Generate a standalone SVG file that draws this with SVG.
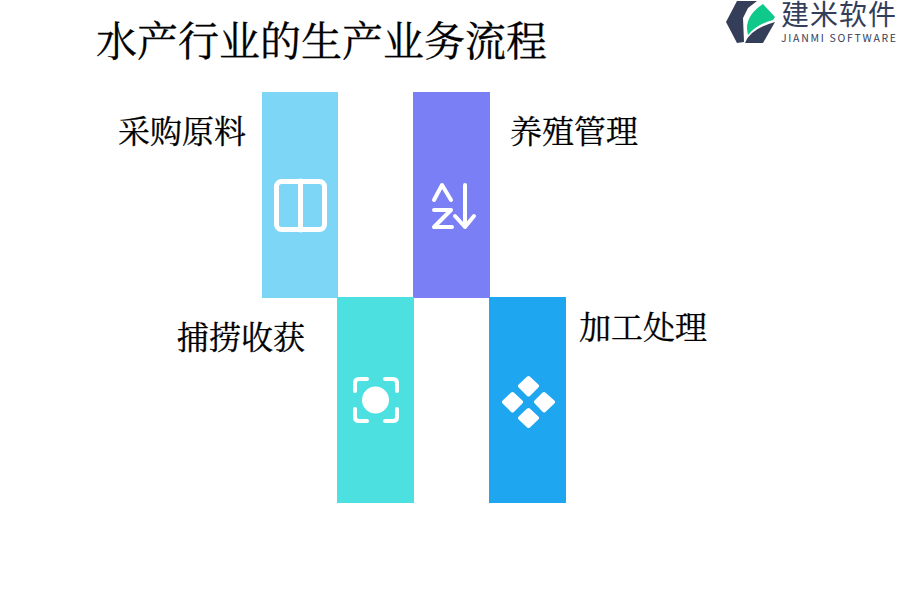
<svg xmlns="http://www.w3.org/2000/svg" width="900" height="600" viewBox="0 0 900 600">
<style>
.t{font-family:"Noto Serif CJK SC","Liberation Serif",serif;fill:#000;stroke:#000;stroke-width:.3px}
.l{font-size:32px}
.i{fill:none;stroke:#fff;stroke-width:4px;stroke-linecap:round;stroke-linejoin:round}
.w{fill:#fff;stroke:#fff;stroke-width:4px;stroke-linejoin:round}
.g{font-family:"Noto Sans CJK SC","Noto Sans",sans-serif;fill:#353e59}
</style>
<rect width="900" height="600" fill="#fff"/>
<text class="t" x="96" y="56" font-size="41">水产行业的生产业务流程</text>
<g id="node-caigou">
<rect x="262" y="92" width="76" height="206" fill="#7dd6f6"/>
<rect class="i" style="stroke-width:5px" x="276.500" y="181.500" width="48" height="48" rx="5"/>
<path class="i" style="stroke-width:5px" d="M300.500 181V230"/>
<text class="t l" x="118" y="143">采购原料</text>
</g>
<g id="node-yangzhi">
<rect x="413" y="92" width="77" height="206" fill="#7b7ff5"/>
<path class="i" d="M434 200L442 185L451 200M434 210H451L434 227H452M465 185V227M455 216L465 227L474 216"/>
<text class="t l" x="510" y="143">养殖管理</text>
</g>
<g id="node-buhuo">
<rect x="337" y="297" width="77" height="206" fill="#4de0e0"/>
<circle cx="375.500" cy="400" r="13.500" fill="#fff"/>
<path class="i" d="M355 391V383Q355 379 359 379H367M385 379H393Q397 379 397 383V391M397 409V417Q397 421 393 421H385M367 421H359Q355 421 355 417V409"/>
<text class="t l" x="177" y="349">捕捞收获</text>
</g>
<g id="node-jiagong">
<rect x="489" y="297" width="77" height="206" fill="#1ea7f0"/>
<path class="w" d="M528.500 378L537 386L528.500 394.500L520 386ZM512.500 394L521 402L512.500 410.500L504 402ZM544 394L553 402L544 410.500L536 402ZM528.500 410L537 418L528.500 426L520 418Z"/>
<text class="t l" x="579" y="339">加工处理</text>
</g>
<g id="connectors"></g>
<g id="logo">
<path d="M726 22L737 1H757L748 8L743 18L744 42L737 43Z" fill="#353e59"/>
<path d="M763 4L775 17L773 20Q757 24 748 35Q743 17 763 4Z" fill="#0fc98a"/>
<path d="M775 22L763 43H745Q750 29 775 22Z" fill="#353e59"/>
<text class="g" x="781" y="25" font-size="28" letter-spacing="1">建米软件</text>
<text class="g" x="781" y="42" font-size="10.500" letter-spacing="1.700">JIANMI SOFTWARE</text>
</g>
</svg>
